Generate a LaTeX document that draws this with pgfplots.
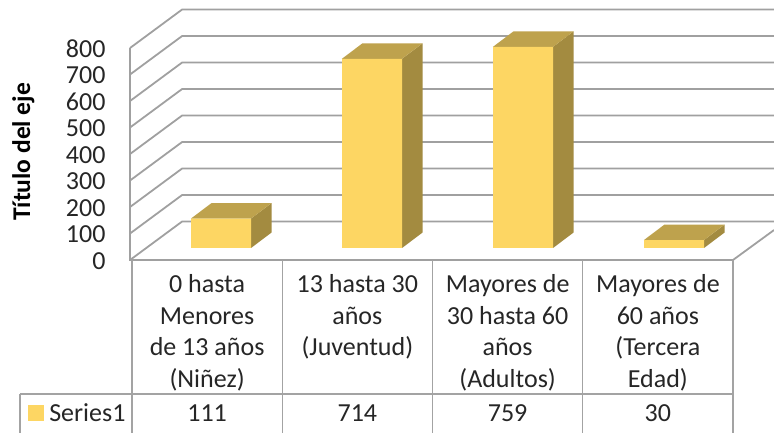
\documentclass[border=0pt]{standalone}
\usepackage{fontspec}
\setmainfont{Carlito}
\usepackage{pgfplots}
\pgfplotsset{compat=1.18}

\definecolor{barfront}{HTML}{FDD663}
\definecolor{bartop}{HTML}{BEA24D}
\definecolor{barside}{HTML}{A38B40}
\definecolor{gridgray}{HTML}{A0A0A0}
\definecolor{tablegray}{HTML}{A3A3A3}
\definecolor{txt}{HTML}{262626}

% side and top of one bar: centre, value (depth 0.136 / 58.5 in axis units)
\newcommand{\barbox}[2]{%
  \pgfmathsetmacro{\xa}{#1-0.199}%
  \pgfmathsetmacro{\xb}{#1+0.199}%
  \pgfmathsetmacro{\xc}{#1-0.199+0.136}%
  \pgfmathsetmacro{\xd}{#1+0.199+0.136}%
  \pgfmathsetmacro{\ytop}{#2+58.5}%
  \addplot[draw=none,fill=barside] coordinates {(\xb,0) (\xd,58.5) (\xd,\ytop) (\xb,#2)} -- cycle;
  \addplot[draw=none,fill=bartop] coordinates {(\xa,#2) (\xb,#2) (\xd,\ytop) (\xc,\ytop)} -- cycle;
}

\begin{document}
\begin{tikzpicture}
\useasboundingbox (0,0) rectangle (774pt,433pt);

\begin{axis}[
  at={(132pt,173pt)}, anchor=south west,
  scale only axis, width=601pt, height=212pt,
  xmin=0, xmax=4, ymin=0, ymax=800,
  clip=false,
  axis line style={draw=none},
  major tick length=0pt,
  ytick={0,100,...,800},
  xtick={0.5,1.5,2.5,3.5},
  xticklabels={{0 hasta\\Menores\\de 13 años\\(Niñez)},
               {13 hasta 30\\años\\(Juventud)},
               {Mayores de\\30 hasta 60\\años\\(Adultos)},
               {Mayores de\\60 años\\(Tercera\\Edad)}},
  /pgf/number format/assume math mode=true,
  yticklabel style={font=\fontsize{26}{26}\selectfont, text=txt, xshift=-23pt, yshift=-1pt},
  xticklabel style={font=\fontsize{26}{31.5}\selectfont, text=txt, align=center, anchor=north, yshift=-11pt},
  ylabel={Título del eje},
  ylabel style={font=\fontsize{25.5}{25.5}\selectfont\bfseries, text=black, at={(axis description cs:-0.181,0.51)}, anchor=center},
]
% walls and floor
\addplot[gridgray,line width=1.8pt] coordinates {(-0.013,0) (0.333,145) (4.273,145)};
\addplot[gridgray,line width=1.8pt] coordinates {(-0.013,100) (0.333,245) (4.273,245)};
\addplot[gridgray,line width=1.8pt] coordinates {(-0.013,200) (0.333,345) (4.273,345)};
\addplot[gridgray,line width=1.8pt] coordinates {(-0.013,300) (0.333,445) (4.273,445)};
\addplot[gridgray,line width=1.8pt] coordinates {(-0.013,400) (0.333,545) (4.273,545)};
\addplot[gridgray,line width=1.8pt] coordinates {(-0.013,500) (0.333,645) (4.273,645)};
\addplot[gridgray,line width=1.8pt] coordinates {(-0.013,600) (0.333,745) (4.273,745)};
\addplot[gridgray,line width=1.8pt] coordinates {(-0.013,700) (0.333,845) (4.273,845)};
\addplot[gridgray,line width=1.8pt] coordinates {(-0.013,800) (0.333,945) (4.273,945)};
\addplot[gridgray,line width=1.8pt] coordinates {(-0.013,800) (-0.013,0) (4,0) (4.273,113)};
% data table lines
\addplot[tablegray,line width=1.2pt] coordinates {(0,0) (0,-653)};
\addplot[tablegray,line width=1.2pt] coordinates {(1,0) (1,-653)};
\addplot[tablegray,line width=1.2pt] coordinates {(2,0) (2,-653)};
\addplot[tablegray,line width=1.2pt] coordinates {(3,0) (3,-653)};
\addplot[tablegray,line width=1.2pt] coordinates {(4,0) (4,-653)};
\addplot[tablegray,line width=1.2pt] coordinates {(-0.745,-506) (4,-506)};
\addplot[tablegray,line width=1.2pt] coordinates {(-0.745,-506) (-0.745,-653)};
% values row
\addplot[draw=none, mark=none, point meta=explicit symbolic, nodes near coords,
  every node near coord/.append style={anchor=center, font=\fontsize{26}{26}\selectfont, text=txt}]
  coordinates {(0.5,-577)[111] (1.5,-577)[714] (2.5,-577)[759] (3.5,-577)[30]};
% legend key in the table
\addplot[only marks, mark=square*, mark size=7.3pt, color=barfront, mark options={draw=barfront, fill=barfront}]
  coordinates {(-0.642,-577)};
\node[anchor=west, font=\fontsize{26}{26}\selectfont, text=txt, inner sep=0pt] at (axis cs:-0.552,-577) {Series1};
\end{axis}

\begin{axis}[
  at={(145.5pt,185pt)}, anchor=south west,
  scale only axis, width=604pt, height=212pt,
  xmin=0, xmax=4, ymin=0, ymax=800,
  clip=false, hide axis,
]
\barbox{0.5}{111}
\barbox{1.5}{714}
\barbox{2.5}{759}
\barbox{3.5}{30}
\addplot[ybar, bar width=60pt, draw=none, fill=barfront]
  coordinates {(0.5,111) (1.5,714) (2.5,759) (3.5,30)};
\end{axis}
\end{tikzpicture}
\end{document}
